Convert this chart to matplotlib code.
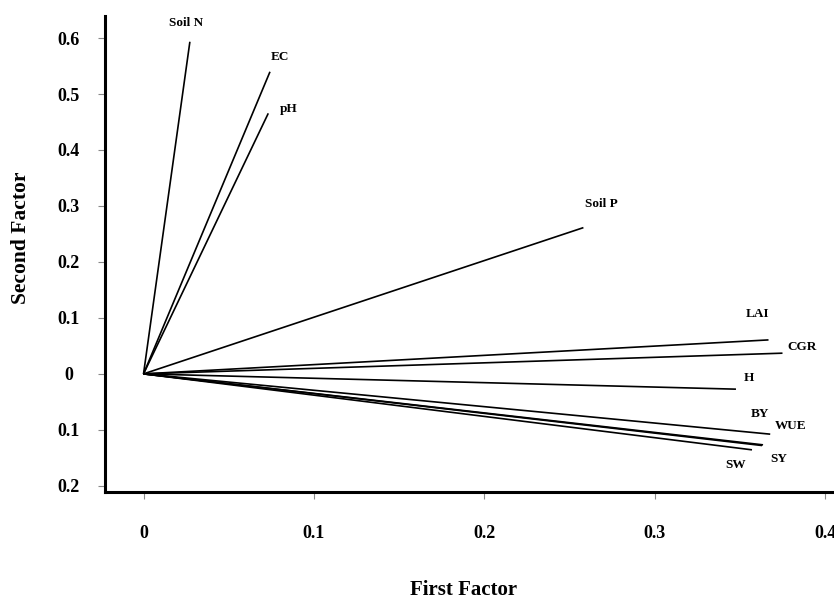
import matplotlib
matplotlib.use('Agg')
import matplotlib.pyplot as plt

# loadings
variaveis = ['Soil N', 'EC', 'pH', 'Soil P', 'LAI', 'CGR', 'H', 'WUE', 'BY', 'SY', 'SW']
fator1 = [0.0272, 0.0742, 0.0732, 0.2581, 0.3667, 0.3749, 0.3476, 0.3677, 0.3635, 0.3629, 0.3570]
fator2 = [0.5934, 0.5398, 0.4655, 0.2613, 0.0607, 0.0370, -0.0273, -0.1077, -0.1268, -0.1280, -0.1357]

x_ticks = [0, 0.1, 0.2, 0.3, 0.4]
x_rotulos = ['0', '0.1', '0.2', '0.3', '0.4']
y_ticks = [0.6, 0.5, 0.4, 0.3, 0.2, 0.1, 0, -0.1, -0.2]
y_rotulos = ['0.6', '0.5', '0.4', '0.3', '0.2', '0.1', '0', '0.1', '0.2']

# label offsets from line end, in pixels
desloc = {
    'Soil N': (-4, 19), 'EC': (10, 15), 'pH': (20, 4), 'Soil P': (18, 24),
    'LAI': (-11, 26), 'CGR': (20, 6), 'H': (13, 11), 'WUE': (20, 8),
    'BY': (-3, 31), 'SY': (17, -13), 'SW': (-16, -15),
}

plt.rcParams['font.family'] = ['Liberation Serif', 'DejaVu Serif']
plt.rcParams['font.weight'] = 'bold'

fig = plt.figure(figsize=(8.34, 6.01), dpi=100)
ax = fig.add_axes([0.1259, 0.1814, 0.881, 0.7916])

for nome, x, y in zip(variaveis, fator1, fator2):
    ax.plot([0, x], [0, y], color='black', lw=1.2, solid_capstyle='butt')
    dx, dy = desloc[nome]
    ax.annotate(nome, (x, y), xytext=(dx, dy), textcoords='offset pixels',
                ha='center', va='center', fontsize=9.5, fontweight='bold')

ax.set_xlim(-0.0226, 0.4085)
ax.set_ylim(-0.211, 0.639)

ax.set_xticks(x_ticks)
ax.set_xticklabels(x_rotulos)
ax.set_yticks(y_ticks)
ax.set_yticklabels(y_rotulos, ha='center')

ax.tick_params(axis='both', direction='out', length=5, width=0.8, color='#888888',
               labelsize=13)
ax.tick_params(axis='x', pad=19)
ax.tick_params(axis='y', pad=21)

for lado in ['top', 'right']:
    ax.spines[lado].set_visible(False)
for lado in ['left', 'bottom']:
    ax.spines[lado].set_linewidth(2.2)

ax.set_xlabel('First Factor', fontsize=15, fontweight='bold', va='center')
ax.set_ylabel('Second Factor', fontsize=15.5, fontweight='bold', va='center')
ax.xaxis.set_label_coords(0.4886, -0.206)
ax.yaxis.set_label_coords(-0.1143, 0.534)

fig.savefig('out.png', dpi=100)
